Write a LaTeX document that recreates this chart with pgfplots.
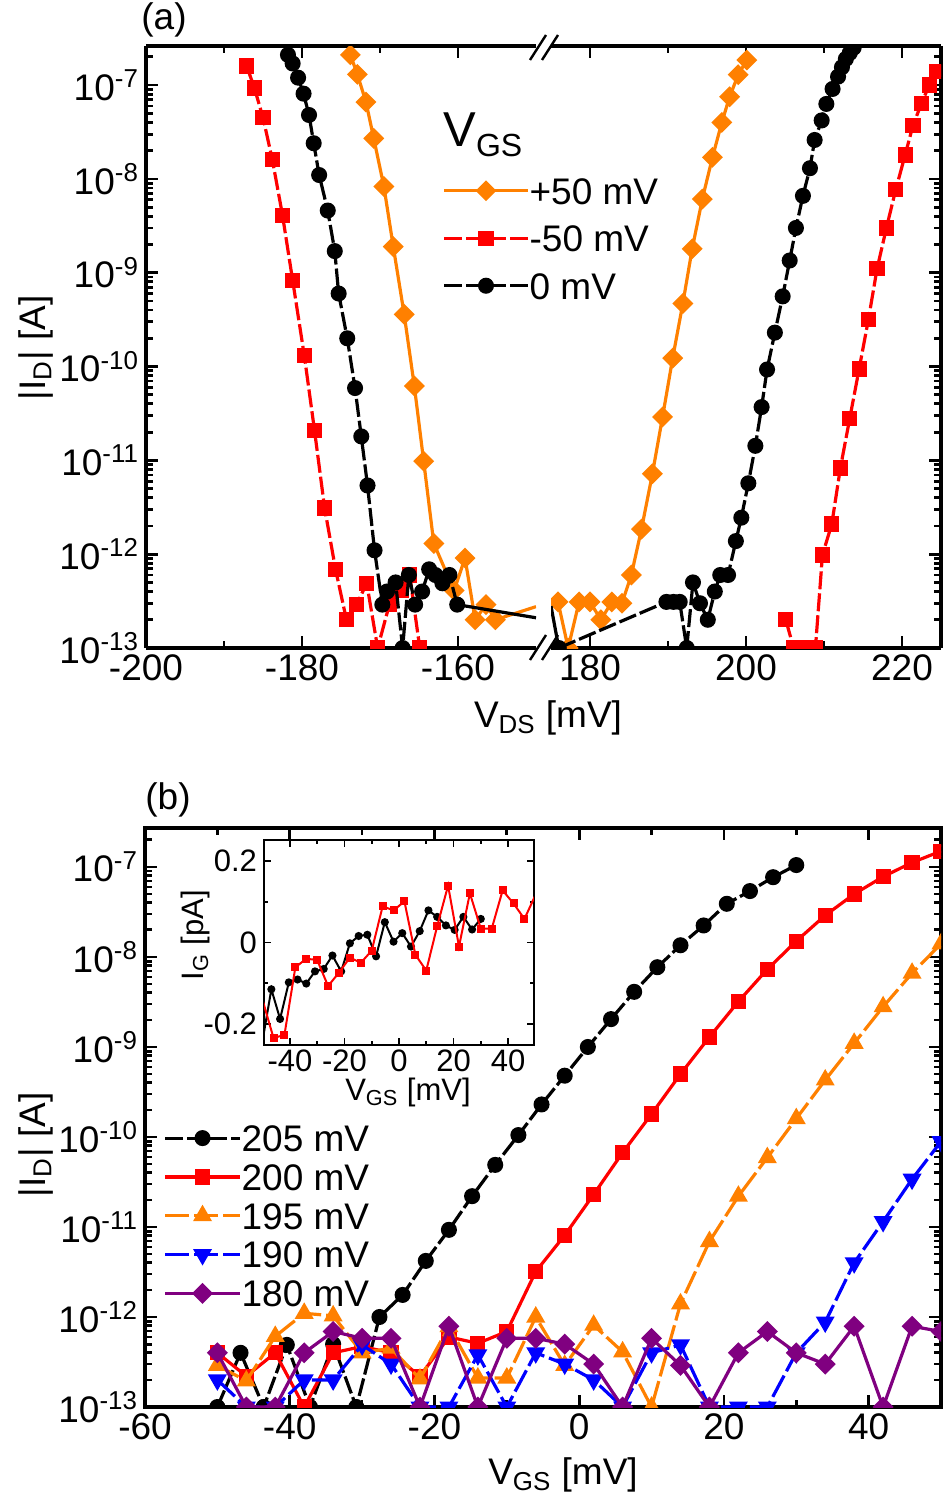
\documentclass[border=0pt]{standalone}
\usepackage{fontspec}
\setmainfont{Liberation Sans}
\setsansfont{Liberation Sans}
\usepackage{pgfplots}
\pgfplotsset{compat=1.18}

\definecolor{cOrange}{RGB}{255,128,0}
\definecolor{cRed}{RGB}{255,0,0}
\definecolor{cBlue}{RGB}{0,0,255}
\definecolor{cPurple}{RGB}{128,0,128}

\newcommand\bigf{\fontsize{18.5pt}{22pt}\selectfont}
\newcommand\insf{\fontsize{15.5pt}{18pt}\selectfont}

\pgfplotsset{
  mybox/.style={
    scale only axis, anchor=south west, clip marker paths=true,
    axis line style={line width=1.8pt},
    every tick/.style={black, line width=1.4pt},
    tick align=inside,
    major tick length=6pt, minor tick length=3.5pt,
    tick label style={font=\bigf},
    legend cell align=left,
  },
  mylogticks/.style={
    ytick={1e-13,1e-12,1e-11,1e-10,1e-9,1e-8,1e-7},
    minor ytick={2e-13,3e-13,4e-13,5e-13,6e-13,7e-13,8e-13,9e-13,
      2e-12,3e-12,4e-12,5e-12,6e-12,7e-12,8e-12,9e-12,
      2e-11,3e-11,4e-11,5e-11,6e-11,7e-11,8e-11,9e-11,
      2e-10,3e-10,4e-10,5e-10,6e-10,7e-10,8e-10,9e-10,
      2e-9,3e-9,4e-9,5e-9,6e-9,7e-9,8e-9,9e-9,
      2e-8,3e-8,4e-8,5e-8,6e-8,7e-8,8e-8,9e-8,2e-7},
  },
  mylogylab/.style={
    yticklabels={10\textsuperscript{-13},10\textsuperscript{-12},10\textsuperscript{-11},
      10\textsuperscript{-10},10\textsuperscript{-9},10\textsuperscript{-8},10\textsuperscript{-7}},
  },
  limgA/.style={legend image code/.code={\draw[mark repeat=2,mark phase=2,##1] plot coordinates {(0pt,0pt) (21pt,0pt) (42pt,0pt)};}},
  limgB/.style={legend image code/.code={\draw[mark repeat=2,mark phase=2,##1] plot coordinates {(0pt,0pt) (18.75pt,0pt) (37.5pt,0pt)};}},
  mkcirc/.style={mark=*, mark size=3.2pt, mark options={solid}},
  mksq/.style={mark=square*, mark size=3pt, mark options={solid}},
  mkdia/.style={mark=square*, mark size=2.9pt, mark options={solid, rotate=45}},
  mktri/.style={mark=triangle*, mark size=3.9pt, mark options={solid}},
  mktrid/.style={mark=triangle*, mark size=3.9pt, mark options={solid, rotate=180}},
}

\begin{document}
\begin{tikzpicture}

% ---------- panel (a), left part ----------
\begin{axis}[mybox, ymode=log, ymin=1e-13, ymax=2.61e-7, mylogticks, mylogylab,
  at={(73pt,426pt)}, width=195pt, height=301pt,
  xmin=-200, xmax=-150,
  axis x line*=box, axis y line*=left, y axis line style={-}, tick align=inside,
  xtick={-200,-180,-160}, xticklabels={-200,-180,-160}, minor xtick={-190,-170},
  limgA,
  legend style={at={(axis description cs:0.7436,0.789)}, anchor=north west,
    draw=none, fill=none, font=\bigf, row sep=10.45pt,
    nodes={inner sep=0pt, text height=13.3pt, text depth=0pt},
    /tikz/every even column/.append style={column sep=3pt}},
]
\addplot[cOrange, line width=1.6pt, mkdia] coordinates {
(-173.8,2.1e-7) (-172.9,1.3e-7) (-171.8,6.6e-8) (-170.8,2.7e-8) (-169.5,8.3e-9)
(-168.3,1.9e-9) (-166.9,3.6e-10) (-165.6,6.2e-11) (-164.4,9.8e-12) (-163.1,1.3e-12)
(-160.5,4.1e-13) (-159.1,9.1e-13) (-157.8,2.0e-13) (-156.4,2.9e-13) (-155.2,2.0e-13)};
\addlegendentry{+50 mV}
\addplot[cRed, line width=1.6pt, dash pattern=on 9pt off 2pt, mksq] coordinates {
(-187.1,1.6e-7) (-186.1,9.3e-8) (-185.0,4.5e-8) (-183.8,1.6e-8) (-182.5,4.1e-9)
(-181.2,8.3e-10) (-179.7,1.3e-10) (-178.4,2.1e-11) (-177.1,3.1e-12) (-175.7,6.9e-13)
(-174.3,2.0e-13) (-173.0,2.9e-13) (-171.7,4.9e-13) (-170.3,1e-13) (-168.8,2.9e-13)
(-167.3,4.1e-13) (-166.2,6.0e-13) (-164.9,1e-13)};
\addlegendentry{-50 mV}
\addplot[black, line width=1.6pt, dash pattern=on 9pt off 2pt, mkcirc] coordinates {
(-181.8,2.1e-7) (-181.2,1.7e-7) (-180.5,1.2e-7) (-179.8,8.1e-8) (-179.1,4.8e-8)
(-178.5,2.4e-8) (-177.8,1.1e-8) (-176.7,4.6e-9) (-175.8,1.7e-9) (-175.3,6.0e-10)
(-174.2,2.0e-10) (-173.2,5.9e-11) (-172.4,1.8e-11) (-171.6,5.4e-12) (-170.7,1.1e-12)
(-169.7,2.9e-13) (-169.1,4.0e-13) (-168.0,5.0e-13) (-167.1,1e-13) (-166.3,6.0e-13)
(-165.5,2.9e-13) (-164.6,4.0e-13) (-163.7,6.9e-13) (-162.9,6.0e-13) (-162.0,4.9e-13)
(-161.1,6.0e-13) (-160.1,2.9e-13)};
\addlegendentry{0 mV}
\addplot[cOrange, line width=1.6pt, no marks, forget plot] coordinates {(-155.2,2.0e-13) (-150,2.76e-13)};
\addplot[black, line width=1.6pt, no marks, forget plot] coordinates {(-160.1,2.9e-13) (-150,2.1e-13)};
\end{axis}

% ---------- panel (a), right part ----------
\begin{axis}[mybox, ymode=log, ymin=1e-13, ymax=2.61e-7, mylogticks,
  at={(275.5pt,426pt)}, width=195pt, height=301pt,
  xmin=175, xmax=225,
  axis x line*=box, axis y line*=right, y axis line style={-}, tick align=inside,
  yticklabels={},
  xtick={180,200,220}, xticklabels={180,200,220}, minor xtick={190,210},
]
\addplot[cOrange, line width=1.6pt, mkdia] coordinates {
(175.9,3.1e-13) (177.2,1e-13) (178.6,3.1e-13) (180.0,3.1e-13) (181.4,2.0e-13)
(182.8,3.1e-13) (184.1,3.0e-13) (185.3,6.0e-13) (186.6,1.85e-12) (188.0,7.2e-12)
(189.3,2.9e-11) (190.6,1.23e-10) (191.9,4.7e-10) (193.1,1.8e-9) (194.4,6.1e-9)
(195.7,1.7e-8) (196.9,4.0e-8) (197.9,7.5e-8) (199.0,1.29e-7) (200.1,1.85e-7)};
\addplot[cRed, line width=1.6pt, dash pattern=on 9pt off 2pt, mksq] coordinates {
(205.1,2.0e-13) (206.1,1e-13) (207.5,1e-13) (208.9,1e-13) (209.8,9.8e-13)
(211.0,2.1e-12) (212.1,8.3e-12) (213.3,2.8e-11) (214.5,9.4e-11) (215.7,3.2e-10)
(216.8,1.1e-9) (218.0,3.0e-9) (219.2,7.7e-9) (220.4,1.8e-8) (221.4,3.7e-8)
(222.5,6.4e-8) (223.5,1.0e-7) (224.4,1.4e-7)};
\addplot[black, line width=1.6pt, no marks] coordinates {(175.0,2.8e-13) (176.0,1e-13)};
\addplot[black, line width=1.6pt, dash pattern=on 9pt off 2pt, mkcirc] coordinates {
(176.0,1e-13) (189.8,3.1e-13) (190.7,3.1e-13) (191.5,3.1e-13) (192.4,1e-13)
(193.2,5.0e-13) (194.1,3.0e-13) (195.1,2.0e-13) (196.0,4.0e-13) (196.7,6.0e-13)
(197.7,6.0e-13) (198.7,1.38e-12) (199.4,2.45e-12) (200.3,5.7e-12) (201.2,1.43e-11)
(202.0,3.7e-11) (202.7,9.3e-11) (203.7,2.3e-10) (204.7,5.6e-10) (205.6,1.35e-9)
(206.4,3.0e-9) (207.3,6.6e-9) (208.2,1.3e-8) (208.8,2.6e-8) (209.7,4.2e-8)
(210.3,6.3e-8) (211.1,9.1e-8) (211.8,1.23e-7) (212.3,1.55e-7) (212.8,1.9e-7)
(213.3,2.2e-7) (213.8,2.5e-7)};
\end{axis}

% axis break marks
\draw[line width=1.2pt] (265pt,720pt) -- (273pt,732.5pt) (271pt,720pt) -- (279pt,732.5pt);
\draw[line width=1.2pt] (265pt,420pt) -- (273pt,432.5pt) (271pt,420pt) -- (279pt,432.5pt);

\node[anchor=base west, inner sep=0pt] at (221.5pt,676.5pt)
  {\fontsize{24.5pt}{28pt}\selectfont V\raisebox{-5pt}{\fontsize{16pt}{18pt}\selectfont GS}};

% ---------- panel (b) ----------
\begin{axis}[mybox, ymode=log, ymin=1e-13, ymax=2.71e-7, mylogticks, mylogylab,
  at={(72.5pt,46.5pt)}, width=398pt, height=289.5pt,
  xmin=-60, xmax=50,
  xtick={-60,-40,-20,0,20,40}, xticklabels={-60,-40,-20,0,20,40},
  minor xtick={-50,-30,-10,10,30},
  limgB,
  legend style={at={(axis description cs:0.0151,0.495)}, anchor=north west,
    draw=none, fill=none, font=\bigf, row sep=6.1pt,
    nodes={inner sep=0pt, text height=13.3pt, text depth=0pt},
    /tikz/every even column/.append style={column sep=1.5pt}},
]
\addplot[black, line width=1.6pt, dash pattern=on 9pt off 2pt, mkcirc] coordinates {
(-50,1e-13) (-46.8,4.0e-13) (-43.6,1e-13) (-40.4,4.9e-13) (-37.2,1e-13) (-34,5.0e-13)
(-30.8,1e-13) (-27.6,1.0e-12) (-24.4,1.76e-12) (-21.2,4.2e-12) (-18,9.3e-12)
(-14.8,2.2e-11) (-11.6,4.9e-11) (-8.4,1.05e-10) (-5.2,2.3e-10) (-2,4.8e-10)
(1.2,1.0e-9) (4.4,2.04e-9) (7.6,4.1e-9) (10.8,7.7e-9) (14,1.35e-8) (17.2,2.24e-8)
(20.4,3.9e-8) (23.6,5.4e-8) (26.8,7.7e-8) (30,1.05e-7)};
\addlegendentry{205 mV}
\addplot[cRed, line width=1.6pt, mksq] coordinates {
(-50,4.0e-13) (-46,2.2e-13) (-42,4.0e-13) (-38,1e-13) (-34,4.0e-13) (-30,4.7e-13)
(-26,4.0e-13) (-22,2.2e-13) (-18,6.0e-13) (-14,5.1e-13) (-10,6.9e-13) (-6,3.2e-12)
(-2,8.1e-12) (2,2.3e-11) (6,6.7e-11) (10,1.8e-10) (14,5.0e-10) (18,1.29e-9)
(22,3.2e-9) (26,7.3e-9) (30,1.5e-8) (34,2.9e-8) (38,5.0e-8) (42,7.8e-8)
(46,1.12e-7) (50,1.5e-7)};
\addlegendentry{200 mV}
\addplot[cOrange, line width=1.6pt, dash pattern=on 12pt off 2.5pt, mktri] coordinates {
(-50,2.9e-13) (-46,1.95e-13) (-42,6.1e-13) (-38,1.1e-12) (-34,1.03e-12) (-30,4.0e-13)
(-26,4.5e-13) (-22,2.05e-13) (-18,7.8e-13) (-14,2.1e-13) (-10,2.1e-13) (-6,1.0e-12)
(-2,2.9e-13) (2,8.1e-13) (6,4.1e-13) (10,1e-13) (14,1.4e-12) (18,6.9e-12)
(22,2.2e-11) (26,5.9e-11) (30,1.6e-10) (34,4.3e-10) (38,1.1e-9) (42,2.8e-9)
(46,6.6e-9) (50,1.4e-8)};
\addlegendentry{195 mV}
\addplot[cBlue, line width=1.6pt, dash pattern=on 12pt off 2.5pt, mktrid] coordinates {
(-50,2.0e-13) (-46,1e-13) (-42,1e-13) (-38,2.0e-13) (-34,2.0e-13) (-30,4.9e-13)
(-26,3.0e-13) (-22,1e-13) (-18,1e-13) (-14,3.8e-13) (-10,1e-13) (-6,4.0e-13)
(-2,3.0e-13) (2,2.0e-13) (6,1e-13) (10,4.0e-13) (14,4.9e-13) (18,1e-13)
(22,1e-13) (26,1e-13) (30,4.0e-13) (34,8.8e-13) (38,4.0e-12) (42,1.15e-11)
(46,3.4e-11) (50,8.9e-11)};
\addlegendentry{190 mV}
\addplot[cPurple, line width=1.6pt, mkdia] coordinates {
(-50,4.0e-13) (-46,1e-13) (-42,1e-13) (-38,4.0e-13) (-34,6.9e-13) (-30,5.8e-13)
(-26,5.8e-13) (-22,1e-13) (-18,7.9e-13) (-14,1e-13) (-10,5.8e-13) (-6,5.8e-13)
(-2,5.0e-13) (2,3.0e-13) (6,1e-13) (10,5.8e-13) (14,2.9e-13) (18,1e-13)
(22,4.0e-13) (26,6.9e-13) (30,4.0e-13) (34,3.0e-13) (38,7.9e-13) (42,1e-13)
(46,7.9e-13) (50,6.9e-13)};
\addlegendentry{180 mV}
\end{axis}

% ---------- inset ----------
\begin{axis}[scale only axis, anchor=south west, at={(132pt,227.5pt)}, width=135pt, height=102.5pt,
  axis background/.style={fill=white}, clip marker paths=true,
  xmin=-49.5, xmax=49.5, ymin=-0.252, ymax=0.252,
  axis line style={line width=1pt}, every tick/.style={black, line width=0.8pt},
  tick align=inside, major tick length=3.5pt, minor tick length=2pt,
  tick label style={font=\insf},
  xticklabel style={yshift=1pt},
  xtick={-40,-20,0,20,40}, xticklabels={-40,-20,0,20,40}, minor xtick={-30,-10,10,30},
  ytick={-0.2,0,0.2}, yticklabels={-0.2,0,0.2}, minor ytick={-0.1,0.1},
]
\addplot[black, line width=1pt, mark=*, mark size=1.5pt] coordinates {
(-50,-0.24) (-46.8,-0.115) (-43.6,-0.188) (-40.4,-0.098) (-37.2,-0.091) (-34,-0.101)
(-30.8,-0.071) (-27.6,-0.065) (-24.4,-0.032) (-21.2,-0.071) (-18,-0.002) (-14.8,0.016)
(-11.6,0.019) (-8.4,-0.034) (-5.2,0.050) (-2,0.002) (1.2,0.023) (4.4,-0.010)
(7.6,0.028) (10.8,0.079) (14,0.063) (17.2,0.042) (20.4,0.031) (23.6,0.063)
(26.8,0.032) (30,0.058)};
\addplot[cRed, line width=1pt, mark=square*, mark size=1.5pt] coordinates {
(-50,-0.142) (-46,-0.235) (-42,-0.227) (-38,-0.061) (-34,-0.040) (-30,-0.043)
(-26,-0.107) (-22,-0.074) (-18,-0.037) (-14,-0.050) (-10,-0.020) (-6,0.089)
(-2,0.079) (2,0.101) (6,-0.030) (10,-0.069) (14,0.040) (18,0.140) (22,-0.010)
(26,0.121) (30,0.034) (34,0.034) (38,0.128) (42,0.096) (46,0.058) (50,0.116)};
\end{axis}

% ---------- labels ----------
\node[font=\bigf] at (82pt,740pt) {(a)};
\node[font=\bigf] at (84pt,350pt) {(b)};
\node[font=\bigf, rotate=90] at (18pt,576pt) {|I\textsubscript{D}| [A]};
\node[font=\bigf] at (274pt,391pt) {V\textsubscript{DS} [mV]};
\node[font=\bigf, rotate=90] at (18pt,177.5pt) {|I\textsubscript{D}| [A]};
\node[font=\bigf] at (281.5pt,12.5pt) {V\textsubscript{GS} [mV]};
\node[font=\insf, rotate=90] at (97.5pt,282.5pt) {I\textsubscript{G} [pA]};
\node[font=\insf] at (204pt,204pt) {V\textsubscript{GS} [mV]};

\pgfresetboundingbox
\useasboundingbox (0,0) rectangle (471.5pt,750pt);
\end{tikzpicture}
\end{document}
